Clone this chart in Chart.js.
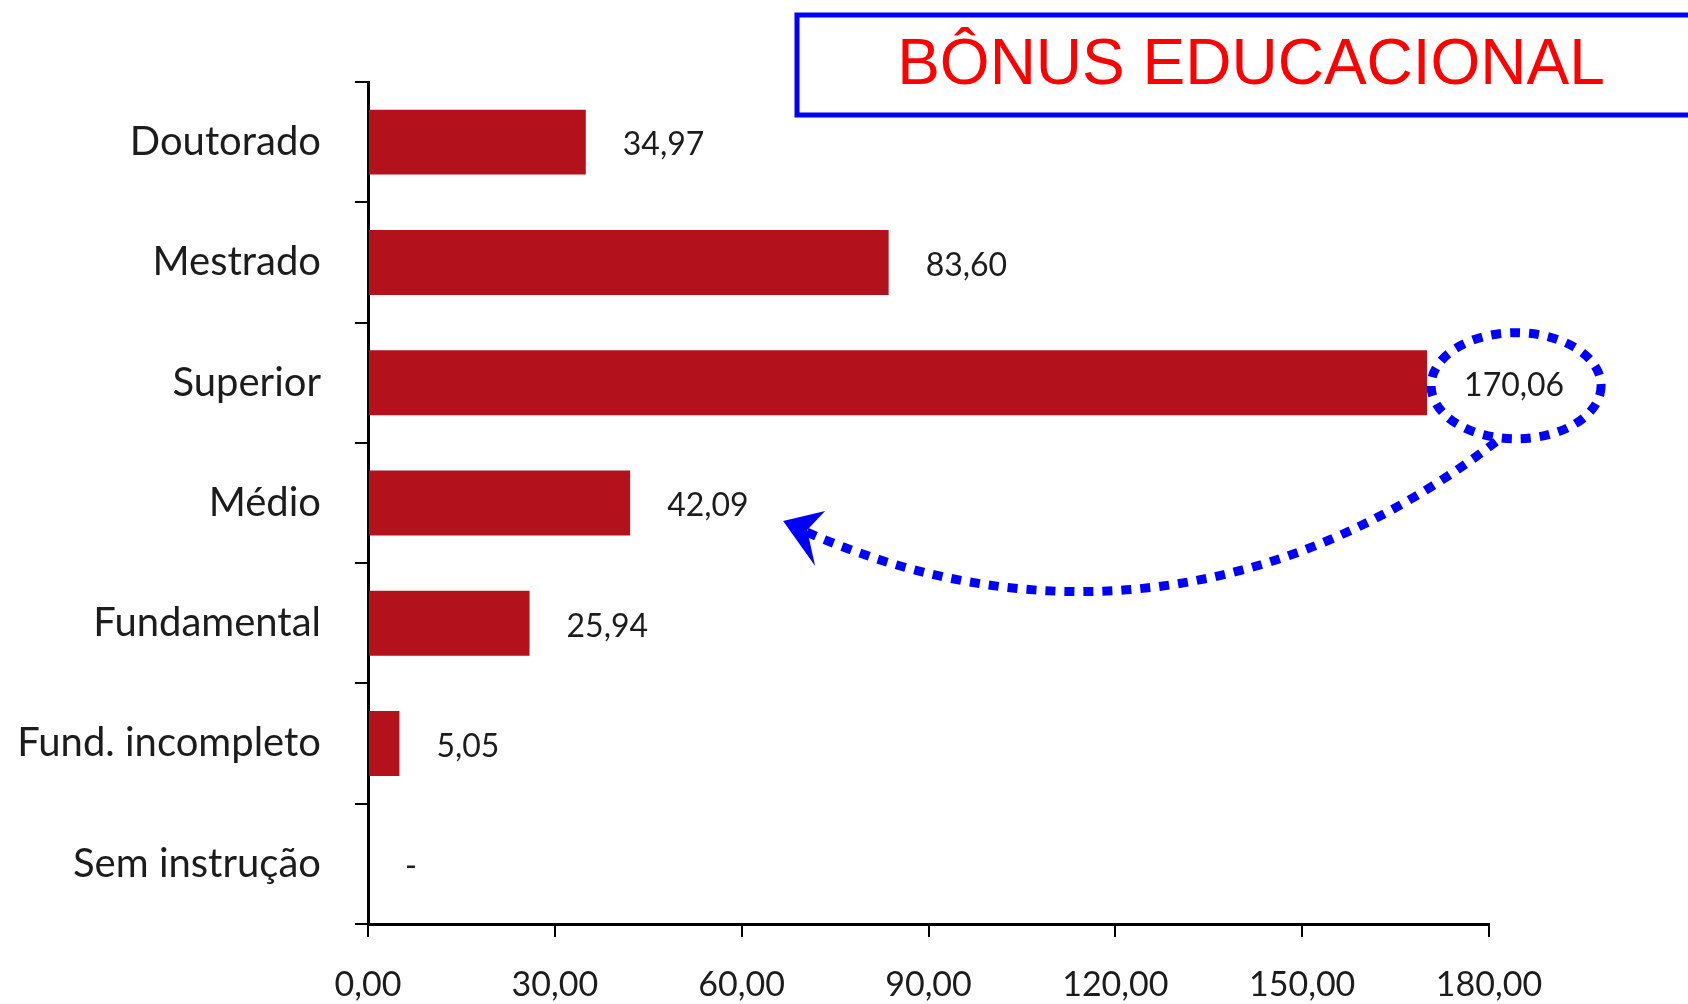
<!DOCTYPE html>
<html>
<head>
<meta charset="utf-8">
<script src="https://cdn.jsdelivr.net/npm/chart.js@4.4.1/dist/chart.umd.min.js"></script>
<style>
  html, body { margin: 0; padding: 0; background: #fff; }
  canvas { display: block; }
</style>
</head>
<body>
<canvas id="bonusChart" width="1688" height="1004"></canvas>
<script>
// data
const categories = ['Doutorado', 'Mestrado', 'Superior', 'Médio', 'Fundamental', 'Fund. incompleto', 'Sem instrução'];
const bonusValues = [34.97, 83.60, 170.06, 42.09, 25.94, 5.05, 0];
const valueLabels = ['34,97', '83,60', '170,06', '42,09', '25,94', '5,05', '-'];
const xTickValues = [0, 30, 60, 90, 120, 150, 180];
const titleText = 'BÔNUS EDUCACIONAL';

const BAR_RED = '#b3121c';
const INK = '#1c1c1c';
const BLUE = '#0000ff';

// value labels at the end of each bar
const valueLabelPlugin = {
    id: 'valueLabels',
    afterDatasetsDraw(chart) {
        const ctx = chart.ctx;
        const meta = chart.getDatasetMeta(0);
        ctx.save();
        ctx.font = '32px Lato';
        ctx.fillStyle = INK;
        ctx.textAlign = 'left';
        ctx.textBaseline = 'middle';
        meta.data.forEach((bar, i) => {
            ctx.fillText(valueLabels[i], bar.x + 37, bar.y + 3);
        });
        ctx.restore();
    }
};

// title box + dotted ellipse + dotted arrow
const annotationPlugin = {
    id: 'annotations',
    afterDraw(chart) {
        const ctx = chart.ctx;
        const xs = chart.scales.x;
        const meta = chart.getDatasetMeta(0);

        ctx.save();
        // title box
        ctx.strokeStyle = BLUE;
        ctx.lineWidth = 5;
        ctx.strokeRect(797, 15, 1000, 100);
        ctx.fillStyle = '#ff0000';
        ctx.font = '64px "Liberation Sans", Arial, sans-serif';
        ctx.textAlign = 'center';
        ctx.textBaseline = 'middle';
        ctx.fillText(titleText, 1251, 66);

        // ellipse round the largest value
        const sup = meta.data[2];
        const cx = xs.getPixelForValue(bonusValues[2]) + 89;
        const cy = sup.y + 3;
        ctx.setLineDash([10, 9]);
        ctx.lineWidth = 9;
        ctx.lineCap = 'butt';
        ctx.beginPath();
        ctx.ellipse(cx, cy, 85, 53, 0, 0, Math.PI * 2);
        ctx.stroke();

        // curved arrow to the Médio label
        const med = meta.data[3];
        const sx = cx - 20, sy = cy + 56;
        const ex = xs.getPixelForValue(bonusValues[3]) + 161, ey = med.y + 22;
        ctx.beginPath();
        ctx.moveTo(sx, sy);
        ctx.bezierCurveTo(sx - 215, sy + 165, ex + 240, ey + 112, ex, ey);
        ctx.stroke();

        // arrow head
        ctx.setLineDash([]);
        const tipX = ex - 8, tipY = ey - 4;
        ctx.fillStyle = BLUE;
        ctx.beginPath();
        ctx.moveTo(tipX, tipY);
        ctx.lineTo(tipX + 42, tipY - 10);
        ctx.lineTo(tipX + 24, tipY + 9);
        ctx.lineTo(tipX + 32, tipY + 45);
        ctx.closePath();
        ctx.fill();
        ctx.restore();
    }
};

function draw() {
    const ctx = document.getElementById('bonusChart').getContext('2d');
    new Chart(ctx, {
        type: 'bar',
        data: {
            labels: categories,
            datasets: [{
                label: 'Bônus educacional',
                data: bonusValues,
                backgroundColor: BAR_RED,
                categoryPercentage: 1,
                barPercentage: 0.54
            }]
        },
        options: {
            indexAxis: 'y',
            responsive: false,
            animation: false,
            layout: { padding: { top: 82, right: 199, left: 0, bottom: 0 } },
            plugins: { legend: { display: false }, tooltip: { enabled: false } },
            scales: {
                y: {
                    grid: { drawOnChartArea: false, offset: true, color: '#000', lineWidth: 2, tickLength: 13 },
                    border: { color: '#000', width: 3 },
                    ticks: { color: INK, font: { family: 'Lato', size: 40 }, padding: 34 },
                    afterFit: s => { s.width = 368; }
                },
                x: {
                    min: 0,
                    max: 180,
                    afterBuildTicks: s => { s.ticks = xTickValues.map(v => ({ value: v })); },
                    grid: { drawOnChartArea: false, color: '#000', lineWidth: 2, tickLength: 13 },
                    border: { color: '#000', width: 3 },
                    ticks: {
                        color: INK,
                        font: { family: 'Lato', size: 34 },
                        padding: 28,
                        callback: v => v.toFixed(2).replace('.', ',')
                    },
                    afterFit: s => { s.height = 80; }
                }
            }
        },
        plugins: [valueLabelPlugin, annotationPlugin]
    });
}

document.fonts.load('40px Lato').then(draw, draw);
</script>
</body>
</html>
